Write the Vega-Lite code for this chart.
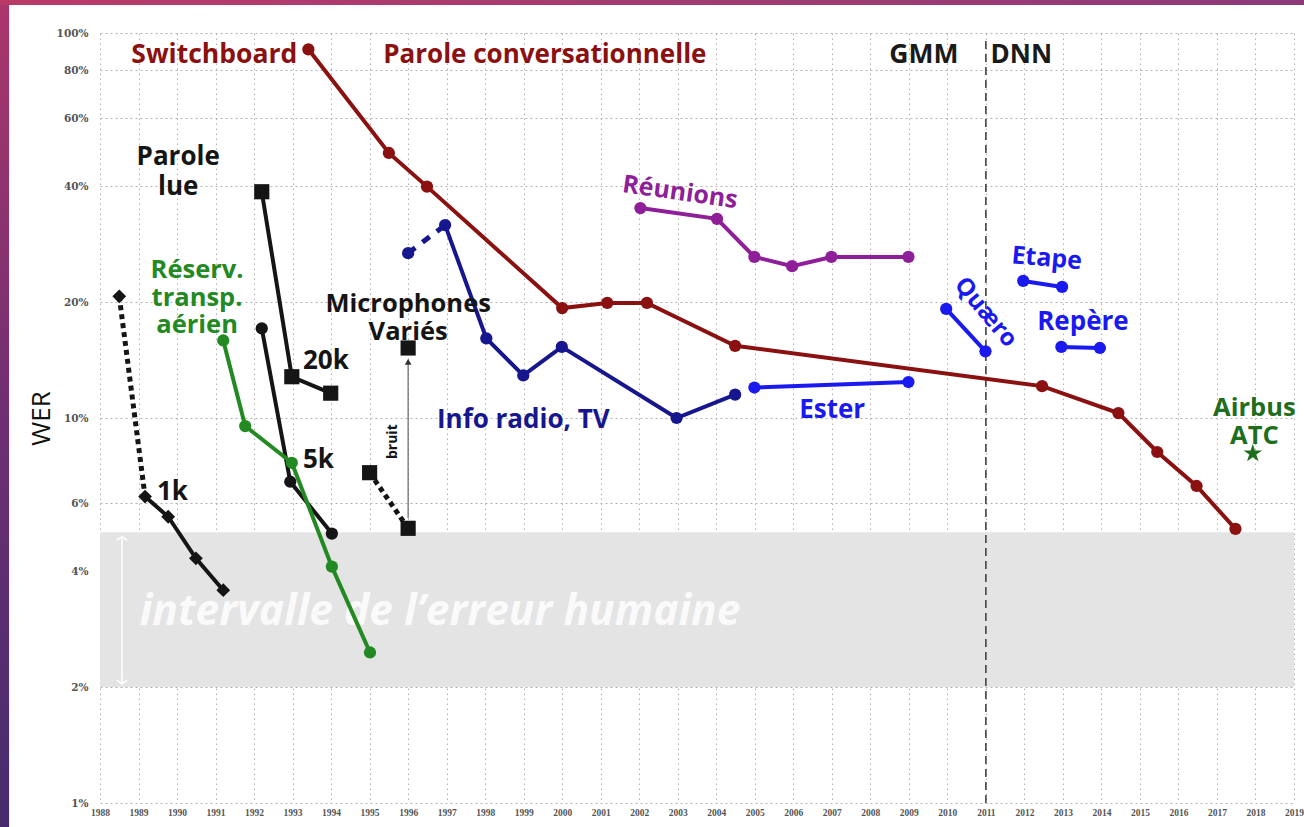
{
  "$schema": "https://vega.github.io/schema/vega-lite/v6.json",
  "width": 1194,
  "height": 770,
  "autosize": {"type": "none"},
  "padding": {"left": 100, "top": 33, "right": 10, "bottom": 24},
  "background": "white",
  "config": {
    "view": {"stroke": null},
    "legend": {"disable": true},
    "axisX": {"labelFont": "Liberation Serif", "labelFontSize": 9.5, "labelFontWeight": "bold", "labelColor": "#555555", "ticks": false, "domain": false, "grid": true, "gridColor": "#b0b0b0", "gridDash": [1.5, 3.5], "gridWidth": 1, "labelPadding": 4, "labelOverlap": false, "labelSeparation": -30, "labelFlush": false, "labelBound": false},
    "axisY": {"labelFont": "DejaVu Serif", "labelFontSize": 10.5, "labelFontWeight": "bold", "labelColor": "#555555", "ticks": false, "domain": false, "grid": true, "gridColor": "#b0b0b0", "gridDash": [2, 3], "gridWidth": 1, "labelPadding": 12, "labelOverlap": false, "titleFont": "Open Sans", "titleFontSize": 26, "titleFontWeight": "normal", "titleColor": "#111111", "titleX": -59, "titleY": 385, "titleAngle": 270, "titleBaseline": "middle", "titleAlign": "center"}
  },
  "datasets": {
    "points": [
      {"corpus": "Switchboard", "seg": "Switchboard", "marker": "circle", "year": 1993.41, "wer": 90.7},
      {"corpus": "Switchboard", "seg": "Switchboard", "marker": "circle", "year": 1995.5, "wer": 48.8},
      {"corpus": "Switchboard", "seg": "Switchboard", "marker": "circle", "year": 1996.49, "wer": 39.9},
      {"corpus": "Switchboard", "seg": "Switchboard", "marker": "circle", "year": 2000.0, "wer": 19.3},
      {"corpus": "Switchboard", "seg": "Switchboard", "marker": "circle", "year": 2001.17, "wer": 19.9},
      {"corpus": "Switchboard", "seg": "Switchboard", "marker": "circle", "year": 2002.2, "wer": 19.9},
      {"corpus": "Switchboard", "seg": "Switchboard", "marker": "circle", "year": 2004.49, "wer": 15.4},
      {"corpus": "Switchboard", "seg": "Switchboard", "marker": "circle", "year": 2012.46, "wer": 12.1},
      {"corpus": "Switchboard", "seg": "Switchboard", "marker": "circle", "year": 2014.44, "wer": 10.3},
      {"corpus": "Switchboard", "seg": "Switchboard", "marker": "circle", "year": 2015.45, "wer": 8.16},
      {"corpus": "Switchboard", "seg": "Switchboard", "marker": "circle", "year": 2016.47, "wer": 6.66},
      {"corpus": "Switchboard", "seg": "Switchboard", "marker": "circle", "year": 2017.48, "wer": 5.15},
      {"corpus": "Info radio, TV", "seg": null, "marker": "circle", "year": 1996.0, "wer": 26.8},
      {"corpus": "Info radio, TV", "seg": "Info", "marker": "circle", "year": 1996.96, "wer": 31.7},
      {"corpus": "Info radio, TV", "seg": "Info", "marker": "circle", "year": 1998.03, "wer": 16.1},
      {"corpus": "Info radio, TV", "seg": "Info", "marker": "circle", "year": 1998.99, "wer": 12.9},
      {"corpus": "Info radio, TV", "seg": "Info", "marker": "circle", "year": 1999.99, "wer": 15.3},
      {"corpus": "Info radio, TV", "seg": "Info", "marker": "circle", "year": 2002.97, "wer": 10.0},
      {"corpus": "Info radio, TV", "seg": "Info", "marker": "circle", "year": 2004.49, "wer": 11.5},
      {"corpus": "Ester", "seg": "Ester", "marker": "circle", "year": 2004.99, "wer": 12.0},
      {"corpus": "Ester", "seg": "Ester", "marker": "circle", "year": 2008.99, "wer": 12.4},
      {"corpus": "Quaero", "seg": "Quaero", "marker": "circle", "year": 2009.97, "wer": 19.2},
      {"corpus": "Quaero", "seg": "Quaero", "marker": "circle", "year": 2010.99, "wer": 14.9},
      {"corpus": "Etape", "seg": "Etape", "marker": "circle", "year": 2011.97, "wer": 22.7},
      {"corpus": "Etape", "seg": "Etape", "marker": "circle", "year": 2012.98, "wer": 21.9},
      {"corpus": "Repère", "seg": "Repère", "marker": "circle", "year": 2012.96, "wer": 15.3},
      {"corpus": "Repère", "seg": "Repère", "marker": "circle", "year": 2013.96, "wer": 15.2},
      {"corpus": "Réunions", "seg": "Réunions", "marker": "circle", "year": 2002.03, "wer": 35.1},
      {"corpus": "Réunions", "seg": "Réunions", "marker": "circle", "year": 2004.02, "wer": 32.9},
      {"corpus": "Réunions", "seg": "Réunions", "marker": "circle", "year": 2004.99, "wer": 26.2},
      {"corpus": "Réunions", "seg": "Réunions", "marker": "circle", "year": 2005.97, "wer": 24.8},
      {"corpus": "Réunions", "seg": "Réunions", "marker": "circle", "year": 2006.99, "wer": 26.2},
      {"corpus": "Réunions", "seg": "Réunions", "marker": "circle", "year": 2008.99, "wer": 26.2},
      {"corpus": "Parole lue 20k", "seg": "20k", "marker": "square", "year": 1992.2, "wer": 38.7},
      {"corpus": "Parole lue 20k", "seg": "20k", "marker": "square", "year": 1992.98, "wer": 12.8},
      {"corpus": "Parole lue 20k", "seg": "20k", "marker": "square", "year": 1993.99, "wer": 11.6},
      {"corpus": "Parole lue 5k", "seg": "5k", "marker": "circle", "year": 1992.2, "wer": 17.1},
      {"corpus": "Parole lue 5k", "seg": "5k", "marker": "circle", "year": 1992.94, "wer": 6.83},
      {"corpus": "Parole lue 5k", "seg": "5k", "marker": "circle", "year": 1994.02, "wer": 5.01},
      {"corpus": "Parole lue 1k", "seg": null, "marker": "diamond", "year": 1988.5, "wer": 20.7},
      {"corpus": "Parole lue 1k", "seg": "1k", "marker": "diamond", "year": 1989.17, "wer": 6.25},
      {"corpus": "Parole lue 1k", "seg": "1k", "marker": "diamond", "year": 1989.77, "wer": 5.54},
      {"corpus": "Parole lue 1k", "seg": "1k", "marker": "diamond", "year": 1990.49, "wer": 4.32},
      {"corpus": "Parole lue 1k", "seg": "1k", "marker": "diamond", "year": 1991.2, "wer": 3.57},
      {"corpus": "Réserv. transp. aérien", "seg": "ATIS", "marker": "circle", "year": 1991.2, "wer": 15.9},
      {"corpus": "Réserv. transp. aérien", "seg": "ATIS", "marker": "circle", "year": 1991.77, "wer": 9.53},
      {"corpus": "Réserv. transp. aérien", "seg": "ATIS", "marker": "circle", "year": 1992.98, "wer": 7.65},
      {"corpus": "Réserv. transp. aérien", "seg": "ATIS", "marker": "circle", "year": 1994.02, "wer": 4.11},
      {"corpus": "Réserv. transp. aérien", "seg": "ATIS", "marker": "circle", "year": 1995.01, "wer": 2.46},
      {"corpus": "Microphones variés", "seg": null, "marker": "square", "year": 1995.0, "wer": 7.21},
      {"corpus": "Microphones variés", "seg": null, "marker": "square", "year": 1996.0, "wer": 5.17},
      {"corpus": "Microphones variés", "seg": null, "marker": "square", "year": 1996.0, "wer": 15.2},
      {"corpus": "Airbus ATC", "seg": null, "marker": "star", "year": 2017.93, "wer": 8.09}
    ],
    "links": [
      {"corpus": "Parole lue 1k", "seg": "1k-dot", "style": "dotted", "year": 1988.5, "wer": 20.7},
      {"corpus": "Parole lue 1k", "seg": "1k-dot", "style": "dotted", "year": 1989.17, "wer": 6.25},
      {"corpus": "Microphones variés", "seg": "mic-dot", "style": "dotted", "year": 1995.0, "wer": 7.21},
      {"corpus": "Microphones variés", "seg": "mic-dot", "style": "dotted", "year": 1996.0, "wer": 5.17},
      {"corpus": "Info radio, TV", "seg": "info-dash", "style": "dashed", "year": 1996.0, "wer": 26.8},
      {"corpus": "Info radio, TV", "seg": "info-dash", "style": "dashed", "year": 1996.96, "wer": 31.7}
    ],
    "labels": [
      {"label": "Switchboard", "corpus": "Switchboard", "year": 1993.12, "wer": 87.5},
      {"label": "Parole conversationnelle", "corpus": "Switchboard", "year": 1999.55, "wer": 87.5},
      {"label": "GMM", "corpus": "GMM / DNN", "year": 2010.29, "wer": 87.5},
      {"label": "DNN", "corpus": "GMM / DNN", "year": 2011.12, "wer": 87.5},
      {"label": "Parole\nlue", "corpus": "Parole lue", "year": 1990.03, "wer": 47.6},
      {"label": "Réserv.\ntransp.\naérien", "corpus": "Réserv. transp. aérien", "year": 1990.52, "wer": 24.2},
      {"label": "20k", "corpus": "Parole lue 20k", "year": 1993.27, "wer": 14.1},
      {"label": "5k", "corpus": "Parole lue 5k", "year": 1993.27, "wer": 7.78},
      {"label": "1k", "corpus": "Parole lue 1k", "year": 1989.48, "wer": 6.43},
      {"label": "Microphones\nVariés", "corpus": "Microphones variés", "year": 1996.0, "wer": 19.77},
      {"label": "bruit", "corpus": "Microphones variés", "year": 1995.62, "wer": 8.68},
      {"label": "Info radio, TV", "corpus": "Info radio, TV", "year": 1998.99, "wer": 9.88},
      {"label": "Réunions", "corpus": "Réunions", "year": 2003.06, "wer": 38.6},
      {"label": "Ester", "corpus": "Ester", "year": 2007.01, "wer": 10.5},
      {"label": "Quæro", "corpus": "Quaero", "year": 2010.99, "wer": 18.8},
      {"label": "Etape", "corpus": "Etape", "year": 2012.58, "wer": 26.0},
      {"label": "Repère", "corpus": "Repère", "year": 2013.52, "wer": 17.8},
      {"label": "Airbus\nATC", "corpus": "Airbus ATC", "year": 2017.97, "wer": 10.6}
    ]
  },
  "layer": [
    {
      "data": {"values": [{}]},
      "mark": {"type": "rect", "fill": {"gradient": "linear", "x1": 0, "y1": 0, "x2": 0, "y2": 1, "stops": [{"offset": 0, "color": "#b8386a"}, {"offset": 0.5, "color": "#6e2f72"}, {"offset": 1, "color": "#3c2b6c"}]}},
      "encoding": {
        "x": {"datum": 1985.0, "type": "quantitative", "scale": {"type": "linear", "domain": [1988, 2019], "nice": false, "zero": false}, "axis": {"values": [1988, 1989, 1990, 1991, 1992, 1993, 1994, 1995, 1996, 1997, 1998, 1999, 2000, 2001, 2002, 2003, 2004, 2005, 2006, 2007, 2008, 2009, 2010, 2011, 2012, 2013, 2014, 2015, 2016, 2017, 2018, 2019], "format": "d", "labelOverlap": false, "labelSeparation": -30, "labelFlush": false, "labelBound": false, "title": null}},
        "x2": {"datum": 1985.64},
        "y": {"datum": 200, "type": "quantitative", "scale": {"type": "log", "domain": [1, 100], "nice": false}, "axis": {"values": [1, 2, 4, 6, 10, 20, 40, 60, 80, 100], "labelExpr": "datum.value + '%'", "title": "WER"}},
        "y2": {"datum": 0.5}
      }
    },
    {
      "data": {"values": [{}]},
      "mark": {"type": "rect", "fill": {"gradient": "linear", "x1": 0, "y1": 0, "x2": 1, "y2": 0, "stops": [{"offset": 0, "color": "#bb3a67"}, {"offset": 0.5, "color": "#a23c72"}, {"offset": 1, "color": "#8a3a7a"}]}},
      "encoding": {
        "x": {"datum": 1985.0, "type": "quantitative", "axis": {"values": [1988, 1989, 1990, 1991, 1992, 1993, 1994, 1995, 1996, 1997, 1998, 1999, 2000, 2001, 2002, 2003, 2004, 2005, 2006, 2007, 2008, 2009, 2010, 2011, 2012, 2013, 2014, 2015, 2016, 2017, 2018, 2019], "format": "d", "labelOverlap": false, "labelSeparation": -30, "labelFlush": false, "labelBound": false, "title": null}},
        "x2": {"datum": 2021.0},
        "y": {"datum": 200, "type": "quantitative", "title": "WER"},
        "y2": {"datum": 118.2}
      }
    },
    {
      "data": {"values": [{}]},
      "mark": {"type": "rect", "fill": "#e4e4e4"},
      "encoding": {
        "x": {"datum": 1988, "type": "quantitative", "axis": {"values": [1988, 1989, 1990, 1991, 1992, 1993, 1994, 1995, 1996, 1997, 1998, 1999, 2000, 2001, 2002, 2003, 2004, 2005, 2006, 2007, 2008, 2009, 2010, 2011, 2012, 2013, 2014, 2015, 2016, 2017, 2018, 2019], "format": "d", "labelOverlap": false, "labelSeparation": -30, "labelFlush": false, "labelBound": false, "title": null}},
        "x2": {"datum": 2019},
        "y": {"datum": 5.05, "type": "quantitative", "title": "WER"},
        "y2": {"datum": 2.0}
      }
    },
    {
      "data": {"values": [{}]},
      "mark": {"type": "rule", "stroke": "white", "strokeWidth": 1.5},
      "encoding": {
        "x": {"datum": 1988.57, "type": "quantitative", "axis": {"values": [1988, 1989, 1990, 1991, 1992, 1993, 1994, 1995, 1996, 1997, 1998, 1999, 2000, 2001, 2002, 2003, 2004, 2005, 2006, 2007, 2008, 2009, 2010, 2011, 2012, 2013, 2014, 2015, 2016, 2017, 2018, 2019], "format": "d", "labelOverlap": false, "labelSeparation": -30, "labelFlush": false, "labelBound": false, "title": null}},
        "y": {"datum": 4.92, "type": "quantitative", "title": "WER"},
        "y2": {"datum": 2.04}
      }
    },
    {
      "data": {"values": [{}]},
      "mark": {"type": "point", "shape": "M-1,0.7L0,0L1,0.7", "filled": false, "stroke": "white", "strokeWidth": 1.5, "size": 110, "opacity": 1},
      "encoding": {
        "x": {"datum": 1988.57, "type": "quantitative", "axis": {"values": [1988, 1989, 1990, 1991, 1992, 1993, 1994, 1995, 1996, 1997, 1998, 1999, 2000, 2001, 2002, 2003, 2004, 2005, 2006, 2007, 2008, 2009, 2010, 2011, 2012, 2013, 2014, 2015, 2016, 2017, 2018, 2019], "format": "d", "labelOverlap": false, "labelSeparation": -30, "labelFlush": false, "labelBound": false, "title": null}},
        "y": {"datum": 4.92, "type": "quantitative", "title": "WER"}
      }
    },
    {
      "data": {"values": [{}]},
      "mark": {"type": "point", "shape": "M-1,-0.7L0,0L1,-0.7", "filled": false, "stroke": "white", "strokeWidth": 1.5, "size": 110, "opacity": 1},
      "encoding": {
        "x": {"datum": 1988.57, "type": "quantitative", "axis": {"values": [1988, 1989, 1990, 1991, 1992, 1993, 1994, 1995, 1996, 1997, 1998, 1999, 2000, 2001, 2002, 2003, 2004, 2005, 2006, 2007, 2008, 2009, 2010, 2011, 2012, 2013, 2014, 2015, 2016, 2017, 2018, 2019], "format": "d", "labelOverlap": false, "labelSeparation": -30, "labelFlush": false, "labelBound": false, "title": null}},
        "y": {"datum": 2.04, "type": "quantitative", "title": "WER"}
      }
    },
    {
      "data": {"values": [{}]},
      "mark": {"type": "text", "font": "Open Sans", "fontSize": 42.5, "fontStyle": "italic", "fontWeight": "bold", "fill": "#fafafa", "align": "center", "baseline": "middle"},
      "encoding": {
        "x": {"datum": 1996.83, "type": "quantitative", "axis": {"values": [1988, 1989, 1990, 1991, 1992, 1993, 1994, 1995, 1996, 1997, 1998, 1999, 2000, 2001, 2002, 2003, 2004, 2005, 2006, 2007, 2008, 2009, 2010, 2011, 2012, 2013, 2014, 2015, 2016, 2017, 2018, 2019], "format": "d", "labelOverlap": false, "labelSeparation": -30, "labelFlush": false, "labelBound": false, "title": null}},
        "y": {"datum": 3.13, "type": "quantitative", "title": "WER"},
        "text": {"value": "intervalle de l’erreur humaine"}
      }
    },
    {
      "data": {"values": [{}]},
      "mark": {"type": "rule", "stroke": "#444444", "strokeWidth": 1.6, "strokeDash": [8, 5]},
      "encoding": {
        "x": {"datum": 2011, "type": "quantitative", "axis": {"values": [1988, 1989, 1990, 1991, 1992, 1993, 1994, 1995, 1996, 1997, 1998, 1999, 2000, 2001, 2002, 2003, 2004, 2005, 2006, 2007, 2008, 2009, 2010, 2011, 2012, 2013, 2014, 2015, 2016, 2017, 2018, 2019], "format": "d", "labelOverlap": false, "labelSeparation": -30, "labelFlush": false, "labelBound": false, "title": null}},
        "y": {"datum": 1.0, "type": "quantitative", "title": "WER"},
        "y2": {"datum": 97}
      }
    },
    {
      "data": {"values": [{}]},
      "mark": {"type": "rule", "stroke": "#666666", "strokeWidth": 1.2},
      "encoding": {
        "x": {"datum": 1996.0, "type": "quantitative", "axis": {"values": [1988, 1989, 1990, 1991, 1992, 1993, 1994, 1995, 1996, 1997, 1998, 1999, 2000, 2001, 2002, 2003, 2004, 2005, 2006, 2007, 2008, 2009, 2010, 2011, 2012, 2013, 2014, 2015, 2016, 2017, 2018, 2019], "format": "d", "labelOverlap": false, "labelSeparation": -30, "labelFlush": false, "labelBound": false, "title": null}},
        "y": {"datum": 5.5, "type": "quantitative", "title": "WER"},
        "y2": {"datum": 14.0}
      }
    },
    {
      "data": {"values": [{}]},
      "mark": {"type": "point", "shape": "triangle-up", "filled": true, "fill": "#333333", "size": 45, "opacity": 1},
      "encoding": {
        "x": {"datum": 1996.0, "type": "quantitative", "axis": {"values": [1988, 1989, 1990, 1991, 1992, 1993, 1994, 1995, 1996, 1997, 1998, 1999, 2000, 2001, 2002, 2003, 2004, 2005, 2006, 2007, 2008, 2009, 2010, 2011, 2012, 2013, 2014, 2015, 2016, 2017, 2018, 2019], "format": "d", "labelOverlap": false, "labelSeparation": -30, "labelFlush": false, "labelBound": false, "title": null}},
        "y": {"datum": 14.0, "type": "quantitative", "title": "WER"}
      }
    },
    {
      "data": {"name": "links"},
      "mark": {"type": "line", "strokeWidth": 5, "strokeCap": "butt"},
      "encoding": {
        "x": {"field": "year", "type": "quantitative", "axis": {"values": [1988, 1989, 1990, 1991, 1992, 1993, 1994, 1995, 1996, 1997, 1998, 1999, 2000, 2001, 2002, 2003, 2004, 2005, 2006, 2007, 2008, 2009, 2010, 2011, 2012, 2013, 2014, 2015, 2016, 2017, 2018, 2019], "format": "d", "labelOverlap": false, "labelSeparation": -30, "labelFlush": false, "labelBound": false, "title": null}},
        "y": {"field": "wer", "type": "quantitative", "title": "WER"},
        "detail": {"field": "seg"},
        "color": {"field": "corpus", "type": "nominal"},
        "strokeDash": {"field": "style", "type": "nominal", "scale": {"domain": ["dotted", "dashed"], "range": [[5, 4], [9, 9]]}}
      }
    },
    {
      "data": {"name": "points"},
      "transform": [{"filter": "isValid(datum.seg)"}],
      "mark": {"type": "line", "strokeWidth": 4},
      "encoding": {
        "x": {"field": "year", "type": "quantitative", "axis": {"values": [1988, 1989, 1990, 1991, 1992, 1993, 1994, 1995, 1996, 1997, 1998, 1999, 2000, 2001, 2002, 2003, 2004, 2005, 2006, 2007, 2008, 2009, 2010, 2011, 2012, 2013, 2014, 2015, 2016, 2017, 2018, 2019], "format": "d", "labelOverlap": false, "labelSeparation": -30, "labelFlush": false, "labelBound": false, "title": null}},
        "y": {"field": "wer", "type": "quantitative", "title": "WER"},
        "detail": {"field": "seg"},
        "color": {"field": "corpus", "type": "nominal", "scale": {
          "domain": ["Switchboard", "Info radio, TV", "Ester", "Quaero", "Etape", "Repère", "Réunions", "Parole lue", "Parole lue 1k", "Parole lue 5k", "Parole lue 20k", "Microphones variés", "Réserv. transp. aérien", "Airbus ATC", "GMM / DNN"],
          "range": ["#8b1010", "#16168e", "#1a1af0", "#1a1af0", "#1a1af0", "#1a1af0", "#8f1f98", "#151515", "#151515", "#151515", "#151515", "#151515", "#238a23", "#1e6e1e", "#1a1a1a"]}}
      }
    },
    {
      "data": {"name": "points"},
      "transform": [{"filter": "datum.marker == 'circle'"}],
      "mark": {"type": "point", "shape": "circle", "filled": true, "size": 150, "opacity": 1},
      "encoding": {
        "x": {"field": "year", "type": "quantitative", "axis": {"values": [1988, 1989, 1990, 1991, 1992, 1993, 1994, 1995, 1996, 1997, 1998, 1999, 2000, 2001, 2002, 2003, 2004, 2005, 2006, 2007, 2008, 2009, 2010, 2011, 2012, 2013, 2014, 2015, 2016, 2017, 2018, 2019], "format": "d", "labelOverlap": false, "labelSeparation": -30, "labelFlush": false, "labelBound": false, "title": null}},
        "y": {"field": "wer", "type": "quantitative", "title": "WER"},
        "color": {"field": "corpus", "type": "nominal"}
      }
    },
    {
      "data": {"name": "points"},
      "transform": [{"filter": "datum.marker == 'square'"}],
      "mark": {"type": "point", "shape": "square", "filled": true, "size": 230, "opacity": 1},
      "encoding": {
        "x": {"field": "year", "type": "quantitative", "axis": {"values": [1988, 1989, 1990, 1991, 1992, 1993, 1994, 1995, 1996, 1997, 1998, 1999, 2000, 2001, 2002, 2003, 2004, 2005, 2006, 2007, 2008, 2009, 2010, 2011, 2012, 2013, 2014, 2015, 2016, 2017, 2018, 2019], "format": "d", "labelOverlap": false, "labelSeparation": -30, "labelFlush": false, "labelBound": false, "title": null}},
        "y": {"field": "wer", "type": "quantitative", "title": "WER"},
        "color": {"field": "corpus", "type": "nominal"}
      }
    },
    {
      "data": {"name": "points"},
      "transform": [{"filter": "datum.marker == 'diamond'"}],
      "mark": {"type": "point", "shape": "diamond", "filled": true, "size": 190, "opacity": 1},
      "encoding": {
        "x": {"field": "year", "type": "quantitative", "axis": {"values": [1988, 1989, 1990, 1991, 1992, 1993, 1994, 1995, 1996, 1997, 1998, 1999, 2000, 2001, 2002, 2003, 2004, 2005, 2006, 2007, 2008, 2009, 2010, 2011, 2012, 2013, 2014, 2015, 2016, 2017, 2018, 2019], "format": "d", "labelOverlap": false, "labelSeparation": -30, "labelFlush": false, "labelBound": false, "title": null}},
        "y": {"field": "wer", "type": "quantitative", "title": "WER"},
        "color": {"field": "corpus", "type": "nominal"}
      }
    },
    {
      "data": {"name": "points"},
      "transform": [{"filter": "datum.marker == 'star'"}],
      "mark": {"type": "point", "shape": "M0,-1L0.223,-0.307L0.951,-0.309L0.361,0.117L0.588,0.809L0,0.38L-0.588,0.809L-0.361,0.117L-0.951,-0.309L-0.223,-0.307Z", "filled": true, "size": 380, "opacity": 1},
      "encoding": {
        "x": {"field": "year", "type": "quantitative", "axis": {"values": [1988, 1989, 1990, 1991, 1992, 1993, 1994, 1995, 1996, 1997, 1998, 1999, 2000, 2001, 2002, 2003, 2004, 2005, 2006, 2007, 2008, 2009, 2010, 2011, 2012, 2013, 2014, 2015, 2016, 2017, 2018, 2019], "format": "d", "labelOverlap": false, "labelSeparation": -30, "labelFlush": false, "labelBound": false, "title": null}},
        "y": {"field": "wer", "type": "quantitative", "title": "WER"},
        "color": {"field": "corpus", "type": "nominal"}
      }
    },
    {
      "data": {"name": "labels"},
      "transform": [{"filter": {"field": "label", "oneOf": ["Parole conversationnelle", "Info radio, TV", "Ester", "Repère"]}}],
      "mark": {"type": "text", "font": "Open Sans", "fontSize": 26, "fontWeight": "bold", "align": "center", "baseline": "middle"},
      "encoding": {
        "x": {"field": "year", "type": "quantitative", "axis": {"values": [1988, 1989, 1990, 1991, 1992, 1993, 1994, 1995, 1996, 1997, 1998, 1999, 2000, 2001, 2002, 2003, 2004, 2005, 2006, 2007, 2008, 2009, 2010, 2011, 2012, 2013, 2014, 2015, 2016, 2017, 2018, 2019], "format": "d", "labelOverlap": false, "labelSeparation": -30, "labelFlush": false, "labelBound": false, "title": null}},
        "y": {"field": "wer", "type": "quantitative", "title": "WER"},
        "text": {"field": "label"},
        "color": {"field": "corpus", "type": "nominal"}
      }
    },
    {
      "data": {"name": "labels"},
      "transform": [{"filter": {"field": "label", "oneOf": ["Réserv.\ntransp.\naérien", "Microphones\nVariés", "Airbus\nATC"]}}],
      "mark": {"type": "text", "font": "Open Sans", "fontSize": 25.5, "fontWeight": "bold", "align": "center", "baseline": "middle", "lineBreak": "\n", "lineHeight": 27.5},
      "encoding": {
        "x": {"field": "year", "type": "quantitative", "axis": {"values": [1988, 1989, 1990, 1991, 1992, 1993, 1994, 1995, 1996, 1997, 1998, 1999, 2000, 2001, 2002, 2003, 2004, 2005, 2006, 2007, 2008, 2009, 2010, 2011, 2012, 2013, 2014, 2015, 2016, 2017, 2018, 2019], "format": "d", "labelOverlap": false, "labelSeparation": -30, "labelFlush": false, "labelBound": false, "title": null}},
        "y": {"field": "wer", "type": "quantitative", "title": "WER"},
        "text": {"field": "label"},
        "color": {"field": "corpus", "type": "nominal"}
      }
    },
    {
      "data": {"name": "labels"},
      "transform": [{"filter": "datum.label == 'Parole\\nlue'"}],
      "mark": {"type": "text", "font": "Open Sans", "fontSize": 26, "fontWeight": "bold", "align": "center", "baseline": "middle", "lineBreak": "\n", "lineHeight": 30},
      "encoding": {
        "x": {"field": "year", "type": "quantitative", "axis": {"values": [1988, 1989, 1990, 1991, 1992, 1993, 1994, 1995, 1996, 1997, 1998, 1999, 2000, 2001, 2002, 2003, 2004, 2005, 2006, 2007, 2008, 2009, 2010, 2011, 2012, 2013, 2014, 2015, 2016, 2017, 2018, 2019], "format": "d", "labelOverlap": false, "labelSeparation": -30, "labelFlush": false, "labelBound": false, "title": null}},
        "y": {"field": "wer", "type": "quantitative", "title": "WER"},
        "text": {"field": "label"},
        "color": {"field": "corpus", "type": "nominal"}
      }
    },
    {
      "data": {"name": "labels"},
      "transform": [{"filter": {"field": "label", "oneOf": ["Switchboard", "GMM"]}}],
      "mark": {"type": "text", "font": "Open Sans", "fontSize": 26.5, "fontWeight": "bold", "align": "right", "baseline": "middle"},
      "encoding": {
        "x": {"field": "year", "type": "quantitative", "axis": {"values": [1988, 1989, 1990, 1991, 1992, 1993, 1994, 1995, 1996, 1997, 1998, 1999, 2000, 2001, 2002, 2003, 2004, 2005, 2006, 2007, 2008, 2009, 2010, 2011, 2012, 2013, 2014, 2015, 2016, 2017, 2018, 2019], "format": "d", "labelOverlap": false, "labelSeparation": -30, "labelFlush": false, "labelBound": false, "title": null}},
        "y": {"field": "wer", "type": "quantitative", "title": "WER"},
        "text": {"field": "label"},
        "color": {"field": "corpus", "type": "nominal"}
      }
    },
    {
      "data": {"name": "labels"},
      "transform": [{"filter": {"field": "label", "oneOf": ["DNN", "20k", "5k", "1k"]}}],
      "mark": {"type": "text", "font": "Open Sans", "fontSize": 26, "fontWeight": "bold", "align": "left", "baseline": "middle"},
      "encoding": {
        "x": {"field": "year", "type": "quantitative", "axis": {"values": [1988, 1989, 1990, 1991, 1992, 1993, 1994, 1995, 1996, 1997, 1998, 1999, 2000, 2001, 2002, 2003, 2004, 2005, 2006, 2007, 2008, 2009, 2010, 2011, 2012, 2013, 2014, 2015, 2016, 2017, 2018, 2019], "format": "d", "labelOverlap": false, "labelSeparation": -30, "labelFlush": false, "labelBound": false, "title": null}},
        "y": {"field": "wer", "type": "quantitative", "title": "WER"},
        "text": {"field": "label"},
        "color": {"field": "corpus", "type": "nominal"}
      }
    },
    {
      "data": {"name": "labels"},
      "transform": [{"filter": "datum.label == 'Réunions'"}],
      "mark": {"type": "text", "font": "Open Sans", "fontSize": 25, "fontWeight": "bold", "align": "center", "baseline": "middle", "angle": 8},
      "encoding": {
        "x": {"field": "year", "type": "quantitative", "axis": {"values": [1988, 1989, 1990, 1991, 1992, 1993, 1994, 1995, 1996, 1997, 1998, 1999, 2000, 2001, 2002, 2003, 2004, 2005, 2006, 2007, 2008, 2009, 2010, 2011, 2012, 2013, 2014, 2015, 2016, 2017, 2018, 2019], "format": "d", "labelOverlap": false, "labelSeparation": -30, "labelFlush": false, "labelBound": false, "title": null}},
        "y": {"field": "wer", "type": "quantitative", "title": "WER"},
        "text": {"field": "label"},
        "color": {"field": "corpus", "type": "nominal"}
      }
    },
    {
      "data": {"name": "labels"},
      "transform": [{"filter": "datum.label == 'Quæro'"}],
      "mark": {"type": "text", "font": "Open Sans", "fontSize": 24, "fontWeight": "bold", "align": "center", "baseline": "middle", "angle": 50},
      "encoding": {
        "x": {"field": "year", "type": "quantitative", "axis": {"values": [1988, 1989, 1990, 1991, 1992, 1993, 1994, 1995, 1996, 1997, 1998, 1999, 2000, 2001, 2002, 2003, 2004, 2005, 2006, 2007, 2008, 2009, 2010, 2011, 2012, 2013, 2014, 2015, 2016, 2017, 2018, 2019], "format": "d", "labelOverlap": false, "labelSeparation": -30, "labelFlush": false, "labelBound": false, "title": null}},
        "y": {"field": "wer", "type": "quantitative", "title": "WER"},
        "text": {"field": "label"},
        "color": {"field": "corpus", "type": "nominal"}
      }
    },
    {
      "data": {"name": "labels"},
      "transform": [{"filter": "datum.label == 'Etape'"}],
      "mark": {"type": "text", "font": "Open Sans", "fontSize": 25, "fontWeight": "bold", "align": "center", "baseline": "middle", "angle": 5},
      "encoding": {
        "x": {"field": "year", "type": "quantitative", "axis": {"values": [1988, 1989, 1990, 1991, 1992, 1993, 1994, 1995, 1996, 1997, 1998, 1999, 2000, 2001, 2002, 2003, 2004, 2005, 2006, 2007, 2008, 2009, 2010, 2011, 2012, 2013, 2014, 2015, 2016, 2017, 2018, 2019], "format": "d", "labelOverlap": false, "labelSeparation": -30, "labelFlush": false, "labelBound": false, "title": null}},
        "y": {"field": "wer", "type": "quantitative", "title": "WER"},
        "text": {"field": "label"},
        "color": {"field": "corpus", "type": "nominal"}
      }
    },
    {
      "data": {"name": "labels"},
      "transform": [{"filter": "datum.label == 'bruit'"}],
      "mark": {"type": "text", "font": "Open Sans", "fontSize": 14, "fontWeight": "bold", "align": "center", "baseline": "middle", "angle": 270},
      "encoding": {
        "x": {"field": "year", "type": "quantitative", "axis": {"values": [1988, 1989, 1990, 1991, 1992, 1993, 1994, 1995, 1996, 1997, 1998, 1999, 2000, 2001, 2002, 2003, 2004, 2005, 2006, 2007, 2008, 2009, 2010, 2011, 2012, 2013, 2014, 2015, 2016, 2017, 2018, 2019], "format": "d", "labelOverlap": false, "labelSeparation": -30, "labelFlush": false, "labelBound": false, "title": null}},
        "y": {"field": "wer", "type": "quantitative", "title": "WER"},
        "text": {"field": "label"},
        "color": {"field": "corpus", "type": "nominal"}
      }
    }
  ]
}
